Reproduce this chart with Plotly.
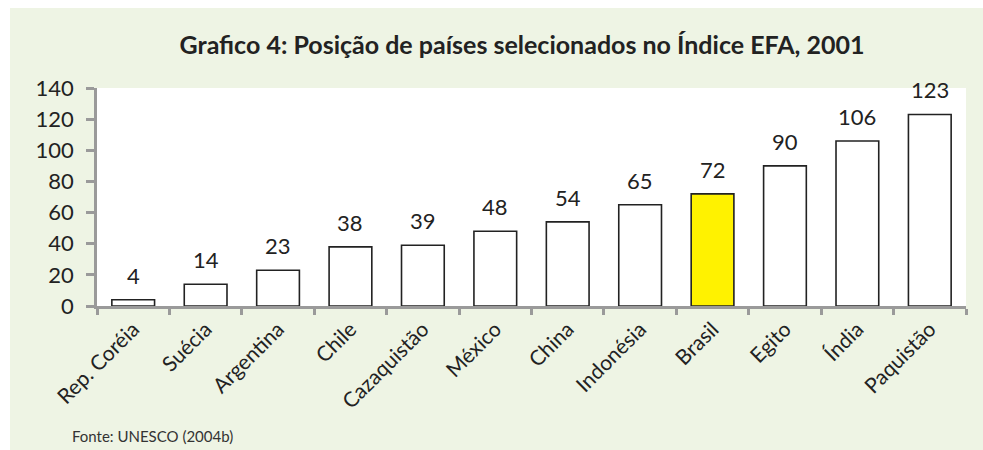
import plotly.graph_objects as go

categories = ["Rep. Coréia", "Suécia", "Argentina", "Chile", "Cazaquistão", "México",
              "China", "Indonésia", "Brasil", "Egito", "Índia", "Paquistão"]
values = [4, 14, 23, 38, 39, 48, 54, 65, 72, 90, 106, 123]
highlight = "Brasil"
y_ticks = [0, 20, 40, 60, 80, 100, 120, 140]

FONT = "Lato, 'Open Sans', sans-serif"
GREEN = "#EEF4E4"

colors = ["#FFF200" if c == highlight else "#FFFFFF" for c in categories]

fig = go.Figure(go.Bar(
    x=categories, y=values,
    marker=dict(color=colors, line=dict(color="#222222", width=1.6)),
    hoverinfo="x+y",
))

annotations = [
    dict(x=c, y=v, xref="x", yref="y", text=str(v), showarrow=False,
         yanchor="bottom", yshift=9, font=dict(family=FONT, size=22, color="#222222"))
    for c, v in zip(categories, values)
]

L, R, T, B = 97, 966, 88, 306
W, H = 983, 450
pw, ph = R - L, B - T

def px(x):
    return (x - L) / pw

def py(y):
    return (B - y) / ph

annotations.append(dict(
    x=px(70), y=py(436), xref="paper", yref="paper", xanchor="left", yanchor="middle",
    text="Fonte: UNESCO (2004b)", showarrow=False,
    font=dict(family=FONT, size=15, color="#333333")))

shapes = [
    dict(type="rect", xref="paper", yref="paper", x0=px(10), x1=px(990), y0=py(460), y1=py(8),
         fillcolor=GREEN, line=dict(width=0), layer="below"),
    dict(type="rect", xref="paper", yref="paper", x0=0, x1=1, y0=0, y1=1,
         fillcolor="#FFFFFF", line=dict(width=0), layer="below"),
]

fig.update_layout(
    width=W, height=H,
    margin=dict(l=L, r=W - R, t=T, b=H - B, autoexpand=False),
    paper_bgcolor="#FFFFFF", plot_bgcolor="#FFFFFF",
    bargap=0.41,
    showlegend=False,
    title=dict(text="<b>Grafico 4: Posição de países selecionados no Índice EFA, 2001</b>",
               x=px(522), xref="paper", xanchor="center",
               y=1 - 45 / H, yref="container", yanchor="middle",
               font=dict(family=FONT, size=25, color="#222222")),
    annotations=annotations,
    shapes=shapes,
    font=dict(family=FONT, color="#222222"),
)

fig.update_xaxes(
    type="category", tickangle=-45, tickfont=dict(family=FONT, size=21, color="#222222"),
    showline=True, linecolor="#9A9A9A", linewidth=2.5,
    ticks="outside", tickson="boundaries", ticklen=6, tickwidth=2.5, tickcolor="#9A9A9A",
    showgrid=False, zeroline=False,
)
fig.update_yaxes(
    range=[0, 140], tickvals=y_ticks, tickfont=dict(family=FONT, size=22, color="#222222"),
    showline=True, linecolor="#9A9A9A", linewidth=2.5,
    ticks="outside", ticklen=8, tickwidth=2.5, tickcolor="#9A9A9A",
    ticklabelstandoff=8,
    showgrid=False, zeroline=False,
)

fig.write_html("out.html",
               config={"displayModeBar": False},
               post_script="document.body.style.margin='0';document.body.style.overflow='hidden';")
